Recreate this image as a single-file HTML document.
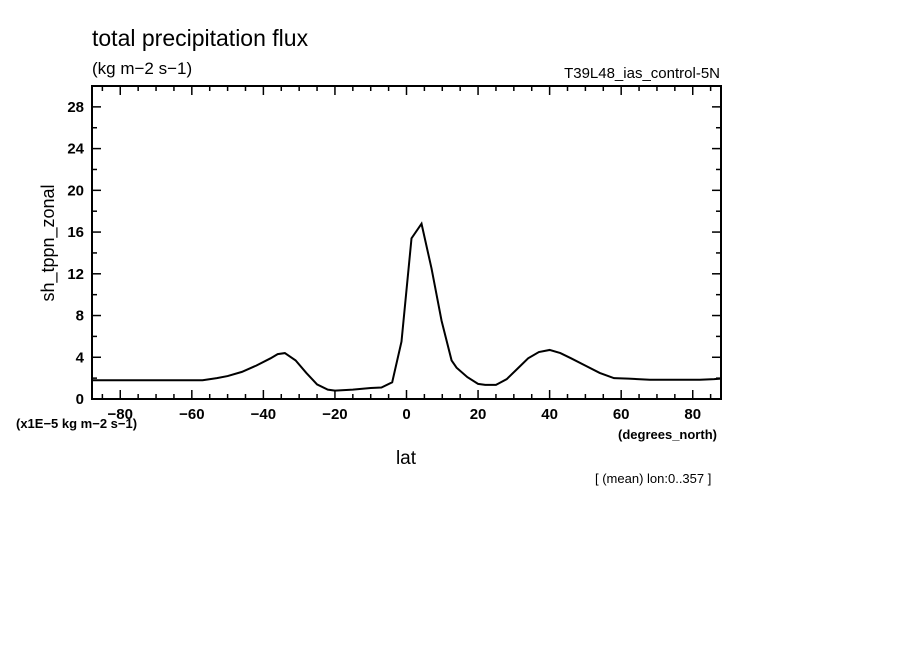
<!DOCTYPE html>
<html><head><meta charset="utf-8"><style>
body{margin:0;background:#fff;width:904px;height:654px;overflow:hidden}
svg text{font-family:"Liberation Sans",sans-serif;fill:#000}
</style></head><body>
<svg width="904" height="654">
<text x="92" y="46" font-size="23">total precipitation flux</text>
<text x="92" y="74" font-size="17">(kg m−2 s−1)</text>
<text x="720" y="78" font-size="15" text-anchor="end">T39L48_ias_control-5N</text>
<g id="axes"></g>
<text transform="translate(54,243) rotate(-90)" font-size="18" text-anchor="middle">sh_tppn_zonal</text>
<text x="16" y="428" font-size="13" font-weight="bold">(x1E−5 kg m−2 s−1)</text>
<text x="406" y="464" font-size="19" text-anchor="middle">lat</text>
<text x="618" y="439" font-size="13" font-weight="bold">(degrees_north)</text>
<text x="595" y="483" font-size="13">[ (mean) lon:0..357 ]</text>
</svg>
<script>
const lats=[-87.9,-80,-70,-60,-57,-53,-50,-46,-42,-38,-36,-34,-31,-28,-25,-22,-20,-15,-10,-7,-4,-1.4,1.4,4.2,7,9.8,12.6,14,17,20,22,25,28,31,34,37,40,43,46,50,54,58,62,68,75,82,86,87.9];
const vals=[1.8,1.8,1.8,1.8,1.8,2.0,2.2,2.6,3.2,3.9,4.3,4.4,3.7,2.5,1.4,0.9,0.8,0.9,1.05,1.1,1.6,5.5,15.4,16.8,12.5,7.5,3.7,3.0,2.1,1.45,1.35,1.35,1.9,2.9,3.9,4.5,4.7,4.4,3.9,3.2,2.5,2.0,1.95,1.85,1.85,1.85,1.9,1.95];
const xTicks=[-80,-60,-40,-20,0,20,40,60,80];
const yTicks=[0,4,8,12,16,20,24,28];
const L=92,R=721,T=86,B=399,X0=-87.9,X1=87.9,Y1=30;
const sx=v=>L+(v-X0)/(X1-X0)*(R-L), sy=v=>B-v/Y1*(B-T);
const g=document.getElementById('axes'),NS='http://www.w3.org/2000/svg';
function el(t,a){const e=document.createElementNS(NS,t);for(const k in a)e.setAttribute(k,a[k]);g.appendChild(e);return e;}
const frame=el('rect',{x:L,y:T,width:R-L,height:B-T,fill:'none',stroke:'#000','stroke-width':2});


for(let v=-85;v<=85;v+=5){const x=sx(v),len=v%20==0?9:5;
 el('line',{x1:x,x2:x,y1:B,y2:B-len,stroke:'#000','stroke-width':1.5});
 el('line',{x1:x,x2:x,y1:T,y2:T+len,stroke:'#000','stroke-width':1.5});}
for(let v=2;v<30;v+=2){const y=sy(v),len=v%4==0?9:5;
 el('line',{x1:L,x2:L+len,y1:y,y2:y,stroke:'#000','stroke-width':1.5});
 el('line',{x1:R,x2:R-len,y1:y,y2:y,stroke:'#000','stroke-width':1.5});}
xTicks.forEach(v=>{const t=el('text',{x:sx(v),y:B+20,'font-size':15,'font-weight':'bold','text-anchor':'middle'});t.textContent=v<0?'−'+(-v):v;
 
 });
yTicks.forEach(v=>{const t=el('text',{x:L-8,y:sy(v)+5,'font-size':15,'font-weight':'bold','text-anchor':'end'});t.textContent=v;
 
 });
const p=el('polyline',{points:lats.map((a,i)=>sx(a)+','+sy(vals[i])).join(' '),fill:'none',stroke:'#000','stroke-width':2});


</script>
</body></html>
